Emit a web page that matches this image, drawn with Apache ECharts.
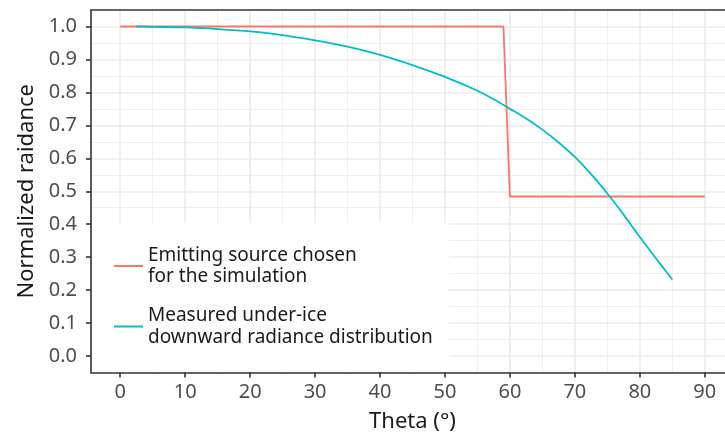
<!DOCTYPE html>
<html>
<head>
<meta charset="utf-8">
<script src="https://cdn.jsdelivr.net/npm/echarts@6/dist/echarts.min.js"></script>
<style>
html,body{margin:0;padding:0;background:#fff;}
#chart{width:725px;height:439px;}
</style>
</head>
<body>
<div id="chart"></div>
<script>
// ---- data ----
const xMajorTicks = [0, 10, 20, 30, 40, 50, 60, 70, 80, 90];
const xMinorTicks = [5, 15, 25, 35, 45, 55, 65, 75, 85];
const yMajorTicks = [0, 0.1, 0.2, 0.3, 0.4, 0.5, 0.6, 0.7, 0.8, 0.9, 1.0];
const yMinorTicks = [0.05, 0.15, 0.25, 0.35, 0.45, 0.55, 0.65, 0.75, 0.85, 0.95];

const sourceTheta = [0, 59, 60, 90];
const sourceValue = [1.0, 1.0, 0.484, 0.484];

const measuredTheta = [2.5, 5, 10, 15, 20, 25, 30, 35, 40, 45, 50, 55, 57.5, 60, 62.5, 65, 67.5, 70, 72.5, 75, 77.5, 80, 82.5, 85];
const measuredValue = [1.000, 0.999, 0.997, 0.992, 0.985, 0.974, 0.958, 0.939, 0.914, 0.883, 0.847, 0.805, 0.779, 0.750, 0.721, 0.687, 0.648, 0.604, 0.552, 0.493, 0.429, 0.361, 0.296, 0.232];

const seriesNames = ['Emitting source chosen for the simulation', 'Measured under-ice downward radiance distribution'];
const legendLabels = ['Emitting source chosen\nfor the simulation', 'Measured under-ice\ndownward radiance distribution'];
const xTitle = 'Theta (°)';
const yTitle = 'Normalized raidance';

// ---- chart ----
const FONT = '"Noto Sans", "Open Sans", sans-serif';
const zip = (a, b) => a.map((v, i) => [v, b[i]]);
const chart = echarts.init(document.getElementById('chart'));

const gridMajor = {show: true, lineStyle: {color: '#ebebeb', width: 1.6}};
const gridMinor = {show: true, lineStyle: {color: '#ebebeb', width: 0.8}};
const darkLine = {show: true, onZero: false, lineStyle: {color: '#333333', width: 1.6}};

chart.setOption({
  animation: false,
  backgroundColor: '#ffffff',
  textStyle: {fontFamily: FONT},
  grid: {left: 91, right: -9, top: 10, bottom: 66.5, outerBoundsMode: 'none', containLabel: false},
  legend: {
    orient: 'vertical',
    left: 92, top: 223,
    padding: [21.5, 16, 23, 22],
    backgroundColor: '#ffffff',
    itemGap: 17.5,
    itemWidth: 29, itemHeight: 2,
    icon: 'rect',
    data: seriesNames,
    formatter: name => legendLabels[seriesNames.indexOf(name)],
    textStyle: {fontFamily: FONT, fontSize: 19, lineHeight: 21.5, color: '#1a1a1a', padding: [0, 0, 0, 0]},
    z: 10
  },
  xAxis: [{
    type: 'value', min: -4.5, max: 94.5,
    position: 'bottom',
    axisLine: darkLine,
    axisTick: {show: true, length: 5, lineStyle: {color: '#333333', width: 1.6}, customValues: xMajorTicks},
    axisLabel: {customValues: xMajorTicks, fontSize: 20, color: '#4d4d4d', margin: 10, fontFamily: FONT},
    splitLine: gridMajor,
    name: xTitle, nameLocation: 'middle', nameGap: 38,
    nameTextStyle: {fontSize: 22, color: '#1a1a1a', fontFamily: FONT}
  }, {
    type: 'value', min: -4.5, max: 94.5,
    position: 'top',
    axisLine: darkLine,
    axisTick: {show: false, customValues: xMinorTicks},
    axisLabel: {show: false, customValues: xMinorTicks},
    splitLine: gridMinor
  }],
  yAxis: [{
    type: 'value', min: -0.05, max: 1.05,
    position: 'left',
    axisLine: darkLine,
    axisTick: {show: true, length: 5, lineStyle: {color: '#333333', width: 1.6}, customValues: yMajorTicks},
    axisLabel: {customValues: yMajorTicks, fontSize: 20, color: '#4d4d4d', margin: 14, fontFamily: FONT,
      formatter: v => Number(v).toFixed(1)},
    splitLine: gridMajor,
    name: yTitle, nameLocation: 'middle', nameGap: 51, nameRotate: 90,
    nameTextStyle: {fontSize: 22, color: '#1a1a1a', fontFamily: FONT}
  }, {
    type: 'value', min: -0.05, max: 1.05,
    position: 'right',
    axisLine: {show: false, onZero: false},
    axisTick: {show: false, customValues: yMinorTicks},
    axisLabel: {show: false, customValues: yMinorTicks},
    splitLine: gridMinor
  }],
  series: [{
    name: seriesNames[0],
    type: 'line',
    data: zip(sourceTheta, sourceValue),
    showSymbol: false, symbol: 'none',
    color: '#F8766D',
    lineStyle: {color: '#F8766D', width: 1.8},
    z: 3
  }, {
    name: seriesNames[1],
    type: 'line',
    data: zip(measuredTheta, measuredValue),
    smooth: 0.3,
    showSymbol: false, symbol: 'none',
    color: '#00BFC4',
    lineStyle: {color: '#00BFC4', width: 1.8},
    z: 4
  }]
});
</script>
</body>
</html>
